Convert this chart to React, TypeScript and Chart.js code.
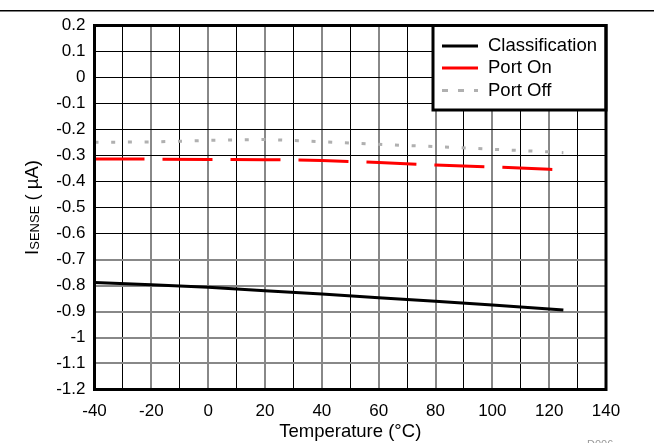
import React, { useEffect, useRef } from "react";
import { Chart, registerables } from "chart.js";

Chart.register(...registerables);

const temps = [-40, -20, 0, 20, 40, 60, 80, 100, 120, 125];
const classification = [-0.788, -0.797, -0.807, -0.82, -0.833, -0.847, -0.861, -0.875, -0.89, -0.894];
const portOn = [-0.313, -0.314, -0.315, -0.316, -0.319, -0.327, -0.337, -0.344, -0.353, -0.355];
const portOff = [-0.249, -0.248, -0.242, -0.238, -0.247, -0.257, -0.266, -0.276, -0.286, -0.289];
const seriesNames = ["Classification", "Port On", "Port Off"];
const xTitle = "Temperature (°C)";
const yTitleMain = "I";
const yTitleSub = "SENSE";
const yTitleRest = " ( µA)";
const figId = "D006";

const FONT = "'Liberation Sans', Arial, Helvetica, sans-serif";

export default function App() {
  const ref = useRef<HTMLCanvasElement | null>(null);
  useEffect(() => {
    const canvas = ref.current!;
    const toXY = (arr: number[]) => temps.map((t, i) => ({ x: t, y: arr[i] }));

    const decor = {
      id: "decor",
      beforeDraw(chart: any) {
        const ctx = chart.ctx;
        ctx.save();
        ctx.fillStyle = "#fff";
        ctx.fillRect(0, 0, chart.width, chart.height);
        ctx.fillStyle = "#000";
        ctx.fillRect(0, 10, chart.width, 1.5);
        ctx.restore();
      },
      afterDraw(chart: any) {
        const ctx = chart.ctx;
        const a = chart.chartArea;
        ctx.save();
        // legend box
        const lx = 433, ly = a.top, lw = a.right - 433, lh = 110 - a.top;
        ctx.fillStyle = "#fff";
        ctx.fillRect(lx, ly, lw, lh);
        ctx.strokeStyle = "#000";
        ctx.lineWidth = 3;
        ctx.strokeRect(lx, ly, lw, lh);
        const rows = [46, 68, 90.5];
        const colors = ["#000", "#ff0000", "#b0b0b0"];
        ctx.font = `18.5px ${FONT}`;
        ctx.textBaseline = "middle";
        ctx.textAlign = "left";
        rows.forEach((ry, i) => {
          ctx.beginPath();
          ctx.strokeStyle = colors[i];
          ctx.lineWidth = 3;
          ctx.setLineDash(i === 2 ? [6, 10] : []);
          ctx.moveTo(442, ry);
          ctx.lineTo(478, ry);
          ctx.stroke();
          ctx.setLineDash([]);
          ctx.fillStyle = "#000";
          ctx.fillText(seriesNames[i], 488, ry);
        });
        // plot border
        ctx.strokeStyle = "#000";
        ctx.lineWidth = 3;
        ctx.strokeRect(a.left, a.top, a.right - a.left, a.bottom - a.top);
        // x title
        ctx.fillStyle = "#000";
        ctx.font = `18.5px ${FONT}`;
        ctx.textAlign = "center";
        ctx.textBaseline = "middle";
        ctx.fillText(xTitle, (a.left + a.right) / 2, 432);
        // y title
        ctx.translate(31, (a.top + a.bottom) / 2);
        ctx.rotate(-Math.PI / 2);
        ctx.textAlign = "left";
        ctx.textBaseline = "alphabetic";
        const mainFont = `18.5px ${FONT}`;
        const subFont = `13px ${FONT}`;
        ctx.font = mainFont;
        const w1 = ctx.measureText(yTitleMain).width;
        const w3 = ctx.measureText(yTitleRest).width;
        ctx.font = subFont;
        const w2 = ctx.measureText(yTitleSub).width;
        let x0 = -(w1 + w2 + w3) / 2;
        const base = 7;
        ctx.font = mainFont;
        ctx.fillText(yTitleMain, x0, base);
        x0 += w1;
        ctx.font = subFont;
        ctx.fillText(yTitleSub, x0, base + 1);
        x0 += w2;
        ctx.font = mainFont;
        ctx.fillText(yTitleRest, x0, base);
        ctx.restore();
        // figure id
        ctx.save();
        ctx.fillStyle = "#999";
        ctx.font = `11px ${FONT}`;
        ctx.textAlign = "left";
        ctx.textBaseline = "alphabetic";
        ctx.fillText(figId, 587, 448);
        ctx.restore();
      },
    };

    const chart = new Chart(canvas, {
      type: "line",
      data: {
        datasets: [
          {
            label: seriesNames[0],
            data: toXY(classification),
            borderColor: "#000",
            borderWidth: 3,
            pointRadius: 0,
            tension: 0,
          },
          {
            label: seriesNames[1],
            data: toXY(portOn),
            borderColor: "#ff0000",
            borderWidth: 3,
            borderDash: [50, 18],
            pointRadius: 0,
            tension: 0,
          },
          {
            label: seriesNames[2],
            data: toXY(portOff),
            borderColor: "#b0b0b0",
            borderWidth: 3,
            borderDash: [4, 12.7],
            pointRadius: 0,
            tension: 0,
          },
        ],
      },
      options: {
        responsive: false,
        animation: false,
        devicePixelRatio: 1,
        layout: { padding: { top: 25.5, right: 48, left: 0, bottom: 0 } },
        plugins: { legend: { display: false }, tooltip: { enabled: false }, title: { display: false } },
        scales: {
          x: {
            type: "linear",
            min: -40,
            max: 140,
            afterFit: (s: any) => {
              s.height = 443 - 389.5;
            },
            grid: {
              drawTicks: false,
              color: (c: any) => (Math.round(c.tick.value) % 20 === 0 ? "#888" : "#000"),
              lineWidth: (c: any) => (Math.round(c.tick.value) % 20 === 0 ? 2 : 1),
            },
            border: { display: false },
            ticks: {
              stepSize: 10,
              padding: 12,
              maxRotation: 0,
              autoSkip: false,
              color: "#000",
              font: { family: FONT, size: 17 },
              callback: (v: any) => (Math.round(Number(v)) % 20 === 0 ? String(Math.round(Number(v))) : ""),
            },
          },
          y: {
            type: "linear",
            min: -1.2,
            max: 0.2,
            afterFit: (s: any) => {
              s.width = 94.5;
            },
            grid: {
              drawTicks: false,
              color: (c: any) => (c.tick.value < -0.65 ? "#888" : "#000"),
              lineWidth: (c: any) => (c.tick.value < -0.65 ? 2 : 1),
            },
            border: { display: false },
            ticks: {
              stepSize: 0.1,
              padding: 9,
              autoSkip: false,
              color: "#000",
              font: { family: FONT, size: 17 },
              callback: (v: any) => String(Math.round(Number(v) * 10) / 10),
            },
          },
        },
      },
      plugins: [decor],
    } as any);
    return () => chart.destroy();
  }, []);

  return (
    <div style={{ position: "fixed", left: 0, top: 0, width: 654, height: 443, background: "#fff" }}>
      <canvas ref={ref} width={654} height={443} style={{ display: "block", width: 654, height: 443 }} />
    </div>
  );
}
